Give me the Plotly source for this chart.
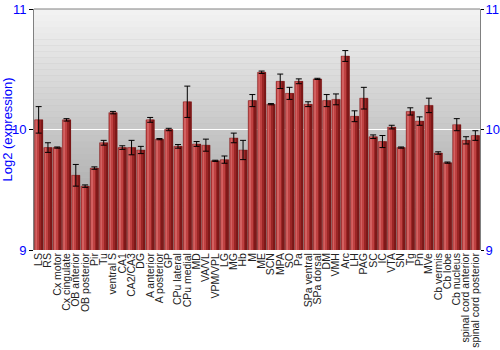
import plotly.graph_objects as go

categories = ["LS", "RS", "Cx motor", "Cx cingulate", "OB anterior", "OB posterior", "Pir", "Tu",
              "ventral S", "CA1", "CA2/CA3", "DG", "A anterior", "A posterior", "GP", "CPu lateral",
              "CPu medial", "MD", "VA/VL", "VPM/VPL", "LG", "MG", "Hb", "M", "ME", "SCN", "MPA", "SO",
              "Pa", "SPa ventral", "SPa dorsal", "DM", "VMH", "Arc", "LH", "PAG", "SC", "IC", "VTA",
              "SN", "Tg", "Pn", "MVe", "Cb vermis", "Cb lobe", "Cb nucleus", "spinal cord anterior",
              "spinal cord posterior"]
values = [10.08, 9.85, 9.85, 10.08, 9.62, 9.53, 9.68, 9.89,
          10.14, 9.85, 9.85, 9.83, 10.08, 9.92, 10.00, 9.86,
          10.23, 9.88, 9.87, 9.74, 9.75, 9.93, 9.83, 10.24, 10.475, 10.21, 10.40, 10.30,
          10.40, 10.21, 10.42, 10.24, 10.25, 10.61, 10.11, 10.26, 9.94, 9.90, 10.02,
          9.85, 10.15, 10.07, 10.20, 9.805, 9.725, 10.04, 9.91, 9.95]
errors = [0.11, 0.04, 0.005, 0.01, 0.09, 0.01, 0.01, 0.02,
          0.01, 0.015, 0.06, 0.03, 0.02, 0.005, 0.01, 0.015,
          0.13, 0.02, 0.05, 0.005, 0.03, 0.04, 0.08, 0.05, 0.01, 0.005, 0.06, 0.05,
          0.02, 0.02, 0.005, 0.05, 0.045, 0.045, 0.045, 0.09, 0.015, 0.05, 0.015,
          0.005, 0.03, 0.035, 0.06, 0.01, 0.005, 0.05, 0.03, 0.04]
y_ticks = [9, 10, 11]

blue = "#0000ff"
font_family = "Liberation Sans, Arial, sans-serif"

fig = go.Figure()

# base bar
bar_w = 0.9
fig.add_trace(go.Bar(x=categories, y=values, width=bar_w, offset=-bar_w / 2,
                     marker=dict(color="#b33333", line=dict(width=0)),
                     hoverinfo="skip", showlegend=False))
# shading stripes (fraction start, fraction end, colour)
stripes = [(0.10, 0.38, "#d26161"), (0.38, 0.55, "#bf4141"),
           (0.62, 0.80, "#9a2525"), (0.80, 1.0, "#7f1919")]
for f0, f1, col in stripes:
    fig.add_trace(go.Bar(x=categories, y=values, width=(f1 - f0) * bar_w,
                         offset=-bar_w / 2 + f0 * bar_w,
                         marker=dict(color=col, line=dict(width=0)),
                         hoverinfo="skip", showlegend=False))
# outline + error bars
fig.add_trace(go.Bar(x=categories, y=values, width=bar_w, offset=-bar_w / 2,
                     marker=dict(color="rgba(0,0,0,0)", line=dict(width=0.6, color="rgba(110,20,20,0.6)")),
                     error_y=dict(type="data", array=errors, visible=True, color="#000000",
                                  thickness=1, width=3),
                     showlegend=False))
# dummy for right axis
fig.add_trace(go.Scatter(x=[categories[0]], y=[10], yaxis="y2", mode="markers",
                         marker=dict(opacity=0), hoverinfo="skip", showlegend=False))

# background gradient
n = 40
shapes = []
for i in range(n):
    t = i / (n - 1)
    g = int(round(0xf2 - (0xf2 - 0x9c) * t))
    shapes.append(dict(type="rect", xref="x domain", yref="y domain",
                       x0=0, x1=1, y0=1 - (i + 1) / n, y1=1 - i / n,
                       fillcolor=f"rgb({g},{g},{g})", line=dict(width=0), layer="below"))
shapes.append(dict(type="line", xref="x domain", yref="y domain", x0=0, x1=1, y0=1, y1=1,
                   line=dict(color="#808080", width=1)))

fig.update_layout(
    width=500, height=350,
    margin=dict(l=34, r=20, t=9, b=100),
    paper_bgcolor="white", plot_bgcolor="#c0c0c0",
    barmode="overlay",
    font=dict(family=font_family),
    shapes=shapes,
    xaxis=dict(type="category", tickangle=-90, range=[-0.5, len(categories) - 0.5],
               tickmode="array", tickvals=categories, ticktext=categories,
               tickfont=dict(size=10.5, color="#222222", family=font_family),
               showgrid=False, showline=False, ticks="", zeroline=False, automargin=False),
    yaxis=dict(range=[9, 11], tickvals=y_ticks, ticktext=[str(v) for v in y_ticks],
               tickfont=dict(size=13, color=blue), showline=True, linecolor="#808080",
               linewidth=1, ticks="outside", ticklen=4, tickcolor="#000000",
               showgrid=True, gridcolor="#ffffff", gridwidth=1, zeroline=False,
               title=dict(text="Log2 (expression)", font=dict(size=13, color=blue), standoff=2),
               automargin=False),
    yaxis2=dict(range=[9, 11], tickvals=y_ticks, ticktext=[str(v) for v in y_ticks],
                overlaying="y", side="right", tickfont=dict(size=13, color=blue),
                showline=True, linecolor="#808080", linewidth=1, ticks="outside", ticklen=3,
                ticklabelstandoff=-1,
                tickcolor="#000000", showgrid=False, zeroline=False, automargin=False),
)

fig.write_html("out.html")
